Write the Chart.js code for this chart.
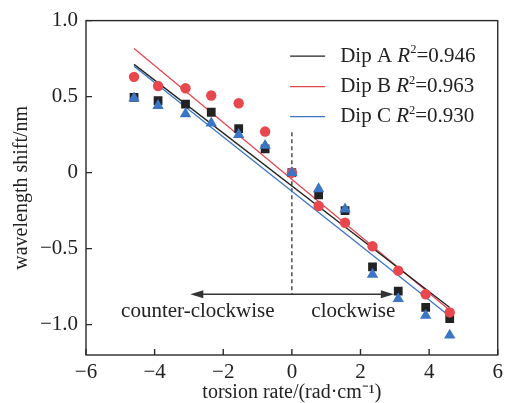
<!DOCTYPE html>
<html>
<head>
<meta charset="utf-8">
<script src="https://cdn.jsdelivr.net/npm/chart.js@4.4.1/dist/chart.umd.min.js"></script>
<style>
  html, body { margin: 0; padding: 0; background: #fff; }
  #wrap { width: 508px; height: 403px; }
</style>
</head>
<body>
<div id="wrap"><canvas id="myChart" width="508" height="403"></canvas></div>
<script>
// values
const torsion = [-4.6, -3.9, -3.1, -2.35, -1.55, -0.78, 0, 0.78, 1.55, 2.35, 3.1, 3.9, 4.6];
const dipA = [0.495, 0.474, 0.45, 0.397, 0.29, 0.156, 0, -0.147, -0.25, -0.62, -0.78, -0.886, -0.96];
const dipB = [0.63, 0.57, 0.555, 0.507, 0.456, 0.27, 0, -0.22, -0.33, -0.485, -0.645, -0.80, -0.92];
const dipC = [0.49, 0.44, 0.386, 0.325, 0.25, 0.178, 0, -0.107, -0.24, -0.67, -0.83, -0.94, -1.07];

// fitted lines, end points
const fitX = [-4.6, 4.6];
const fitA = [0.712, -0.887];
const fitB = [0.817, -0.905];
const fitC = [0.70, -0.945];

const xTicks = [-6, -4, -2, 0, 2, 4, 6];
const yTicks = [-1.0, -0.5, 0, 0.5, 1.0];

const legendNames = ['Dip A', 'Dip B', 'Dip C'];
const legendR2 = ['0.946', '0.963', '0.930'];

// dashed divider and direction arrow
const dividerX = [0, 0];
const dividerY = [0.265, -0.80];
const arrowX = [-2.96, 2.97];
const arrowY = -0.80;
const dirLabels = [
  {text: 'counter-clockwise', x: -2.74, y: -0.915},
  {text: 'clockwise', x: 1.79, y: -0.915}
];

const black = '#222222';
const red = '#e8474e';
const blue = '#3a76c4';
const serif = "'Liberation Serif', 'Times New Roman', serif";

function pts(xs, ys) {
  return xs.map((x, i) => ({x: x, y: ys[i]}));
}
function minus(s) {
  return String(s).replace('-', '\u2212');
}

const decor = {
  id: 'decor',
  afterDatasetsDraw(chart) {
    const ctx = chart.ctx;
    const a = chart.chartArea;
    const xs = chart.scales.x;
    const ys = chart.scales.y;
    ctx.save();

    // arrow
    const ay = ys.getPixelForValue(arrowY);
    const x1 = xs.getPixelForValue(arrowX[0]);
    const x2 = xs.getPixelForValue(arrowX[1]);
    ctx.strokeStyle = '#333';
    ctx.fillStyle = '#333';
    ctx.lineWidth = 1.4;
    ctx.beginPath();
    ctx.moveTo(x1 + 8, ay);
    ctx.lineTo(x2 - 8, ay);
    ctx.stroke();
    ctx.beginPath();
    ctx.moveTo(x1, ay);
    ctx.lineTo(x1 + 13, ay - 4);
    ctx.lineTo(x1 + 13, ay + 4);
    ctx.closePath();
    ctx.fill();
    ctx.beginPath();
    ctx.moveTo(x2, ay);
    ctx.lineTo(x2 - 13, ay - 4);
    ctx.lineTo(x2 - 13, ay + 4);
    ctx.closePath();
    ctx.fill();

    // direction labels
    ctx.font = '21px ' + serif;
    ctx.fillStyle = '#222';
    ctx.textAlign = 'center';
    ctx.textBaseline = 'middle';
    dirLabels.forEach(l => {
      ctx.fillText(l.text, xs.getPixelForValue(l.x), ys.getPixelForValue(l.y));
    });

    // frame
    ctx.strokeStyle = '#2a2a2a';
    ctx.lineWidth = 1.4;
    ctx.strokeRect(a.left, a.top, a.right - a.left, a.bottom - a.top);

    // inward ticks
    ctx.beginPath();
    yTicks.forEach(v => {
      const y = ys.getPixelForValue(v);
      ctx.moveTo(a.left, y);
      ctx.lineTo(a.left + 6, y);
    });
    xTicks.forEach(v => {
      const x = xs.getPixelForValue(v);
      ctx.moveTo(x, a.bottom);
      ctx.lineTo(x, a.bottom - 6);
    });
    ctx.stroke();

    // legend
    const colors = [black, red, blue];
    const rowY = [a.top + 35.5, a.top + 66, a.top + 96];
    const lx = xs.getPixelForValue(-0.05);
    ctx.textAlign = 'left';
    ctx.textBaseline = 'middle';
    legendNames.forEach((name, i) => {
      const y = rowY[i];
      ctx.strokeStyle = colors[i];
      ctx.lineWidth = 1.3;
      ctx.beginPath();
      ctx.moveTo(lx, y);
      ctx.lineTo(lx + 35, y);
      ctx.stroke();
      let tx = lx + 50;
      ctx.fillStyle = '#222';
      ctx.font = '21px ' + serif;
      ctx.fillText(name + ' ', tx, y);
      tx += ctx.measureText(name + ' ').width;
      ctx.font = 'italic 21px ' + serif;
      ctx.fillText('R', tx, y);
      tx += ctx.measureText('R').width;
      ctx.font = '12.5px ' + serif;
      ctx.fillText('2', tx, y - 6);
      tx += ctx.measureText('2').width;
      ctx.font = '21px ' + serif;
      ctx.fillText('=' + legendR2[i], tx, y);
    });

    ctx.restore();
  }
};

const config = {
  type: 'scatter',
  data: {
    datasets: [
      {label: 'Dip C', data: pts(torsion, dipC), pointStyle: 'triangle', pointRadius: 6.6,
        backgroundColor: blue, borderColor: blue, borderWidth: 0, order: 1},
      {label: 'Dip B', data: pts(torsion, dipB), pointStyle: 'circle', pointRadius: 5.2,
        backgroundColor: red, borderColor: red, borderWidth: 0, order: 2},
      {label: 'Dip A', data: pts(torsion, dipA), pointStyle: 'rect', pointRadius: 6.2,
        backgroundColor: black, borderColor: black, borderWidth: 0, order: 3},
      {label: 'fit A', data: pts(fitX, fitA), showLine: true, pointRadius: 0,
        borderColor: black, borderWidth: 1.3, order: 4},
      {label: 'fit B', data: pts(fitX, fitB), showLine: true, pointRadius: 0,
        borderColor: red, borderWidth: 1.3, order: 5},
      {label: 'fit C', data: pts(fitX, fitC), showLine: true, pointRadius: 0,
        borderColor: blue, borderWidth: 1.3, order: 6},
      {label: 'divider', data: pts(dividerX, dividerY), showLine: true, pointRadius: 0,
        borderColor: '#333', borderWidth: 1.3, borderDash: [4, 3], order: 7}
    ]
  },
  options: {
    responsive: false,
    animation: false,
    layout: {padding: {top: 20, right: 5, left: 0, bottom: 0}},
    plugins: {legend: {display: false}, tooltip: {enabled: false}},
    scales: {
      x: {
        min: -6, max: 6,
        grid: {display: false, drawTicks: false},
        border: {display: false},
        afterFit(axis) { axis.height = 48; },
        afterBuildTicks(axis) { axis.ticks = xTicks.map(v => ({value: v})); },
        ticks: {
          padding: 5, color: '#222', maxRotation: 0, autoSkip: false,
          font: {family: serif, size: 21},
          callback: v => minus(v)
        },
        title: {
          display: true, text: 'torsion rate/(rad\u00b7cm\u207b\u00b9)', color: '#222',
          font: {family: serif, size: 20}, padding: {top: 0, bottom: -2}
        }
      },
      y: {
        min: -1.2, max: 1.0,
        grid: {display: false, drawTicks: false},
        border: {display: false},
        afterFit(axis) { axis.width = 86; },
        afterBuildTicks(axis) { axis.ticks = yTicks.map(v => ({value: v})); },
        ticks: {
          padding: 8, color: '#222', autoSkip: false,
          font: {family: serif, size: 21},
          callback: v => v === 0 ? '0' : minus(v.toFixed(1))
        },
        title: {
          display: true, text: 'wavelength shift/nm', color: '#222',
          font: {family: serif, size: 20}, padding: {top: 10, bottom: 0}
        }
      }
    }
  },
  plugins: [decor]
};

var myChart = new Chart(document.getElementById('myChart'), config);
</script>
</body>
</html>
